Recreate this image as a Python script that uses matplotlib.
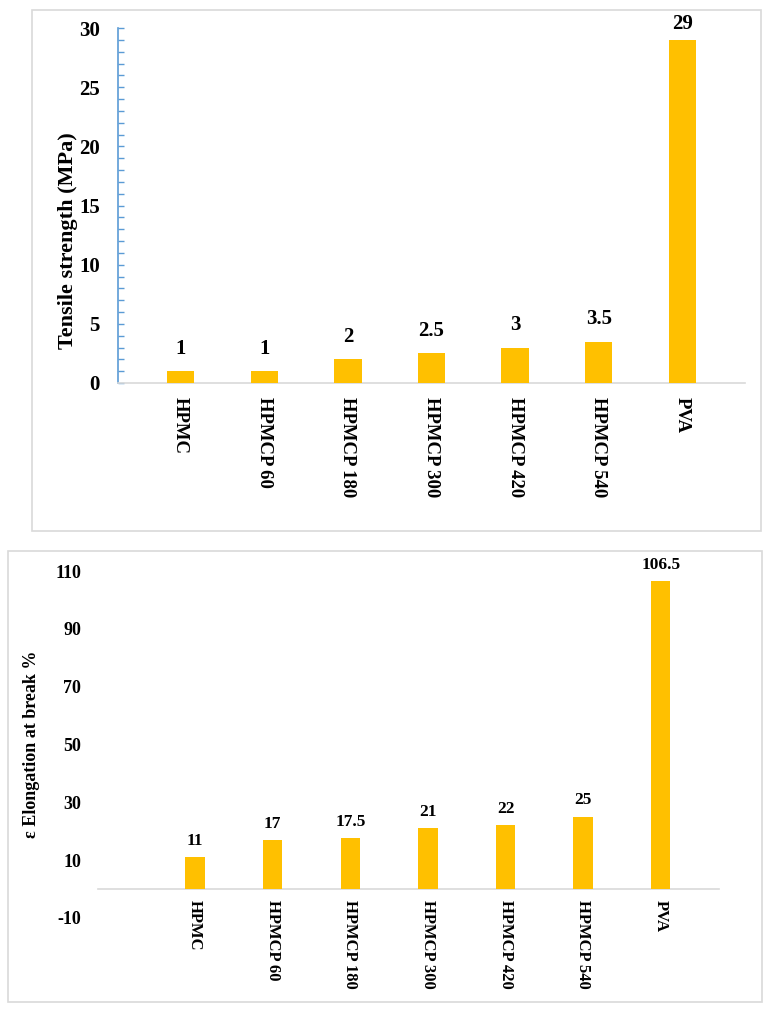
import matplotlib
matplotlib.use("Agg")
import matplotlib.pyplot as plt
from matplotlib.patches import Rectangle
from matplotlib.ticker import MultipleLocator

categories = ["HPMC", "HPMCP 60", "HPMCP 180", "HPMCP 300", "HPMCP 420", "HPMCP 540", "PVA"]
tensile = [1, 1, 2, 2.5, 3, 3.5, 29]
tensile_labels = ["1", "1", "2", "2.5", "3", "3.5", "29"]
elongation = [11, 17, 17.5, 21, 22, 25, 106.5]
elongation_labels = ["11", "17", "17.5", "21", "22", "25", "106.5"]
top_yticks = [0, 5, 10, 15, 20, 25, 30]
bottom_yticks = [-10, 10, 30, 50, 70, 90, 110]

BAR = "#FFC000"
GRID = "#D9D9D9"
BLUE = "#5B9BD5"

plt.rcParams['font.family'] = ['Liberation Serif', 'DejaVu Serif']
plt.rcParams['font.weight'] = 'bold'
plt.rcParams['axes.unicode_minus'] = False

W, H = 773, 1024
fig = plt.figure(figsize=(W / 100, H / 100), dpi=100)

def fx(px):
    return px / W

def fy(py):
    return 1 - py / H

# Outer boxes
fig.patches.append(Rectangle((fx(32), fy(531)), fx(761) - fx(32), fy(10) - fy(531),
                             transform=fig.transFigure, fill=False, edgecolor=GRID, lw=1.2))
fig.patches.append(Rectangle((fx(8), fy(1002)), fx(762) - fx(8), fy(551) - fy(1002),
                             transform=fig.transFigure, fill=False, edgecolor=GRID, lw=1.2))

x = list(range(len(categories)))

# ---------- Top chart ----------
ax1 = fig.add_axes([fx(118), fy(383), fx(745) - fx(118), fy(28) - fy(383)])
ax1.bar(x, tensile, width=0.33, color=BAR, zorder=3)
ax1.set_xlim(-0.75, 6.75)
ax1.set_ylim(0, 30)
ax1.set_yticks(top_yticks)
ax1.yaxis.set_minor_locator(MultipleLocator(1))
for s in ["top", "right"]:
    ax1.spines[s].set_visible(False)
ax1.spines["left"].set_color(BLUE)
ax1.spines["left"].set_linewidth(1.2)
ax1.spines["bottom"].set_color(GRID)
ax1.spines["bottom"].set_linewidth(1.2)
ax1.tick_params(axis="y", which="both", direction="in", colors=BLUE, length=4, width=1,
                labelcolor="black", labelsize=15, pad=13)
ax1.tick_params(axis="x", length=0, labelsize=13.5, pad=10)
ax1.set_xticks(x)
ax1.set_xticklabels(categories, rotation=-90, va="top", ha="center", fontweight="bold")
for lab in ax1.get_yticklabels():
    lab.set_fontweight("bold")
top_max = max(tensile)
for xi, v, t in zip(x, tensile, tensile_labels):
    off = 4 if v == top_max else 9
    ax1.annotate(t, (xi, v), xytext=(0, off), textcoords="offset points",
                 ha="center", va="bottom", fontsize=15, fontweight="bold")
ax1.set_ylabel("Tensile strength (MPa)", fontsize=16, fontweight="bold")
ax1.yaxis.set_label_coords(-0.064, 0.40)

# ---------- Bottom chart ----------
ax2 = fig.add_axes([fx(98), fy(918), fx(719) - fx(98), fy(571) - fy(918)])
ax2.bar(x, elongation, width=0.25, color=BAR, zorder=3)
ax2.set_xlim(-1.25, 6.75)
ax2.set_ylim(-10, 110)
ax2.set_yticks(bottom_yticks)
for s in ["top", "right", "left"]:
    ax2.spines[s].set_visible(False)
ax2.spines["bottom"].set_position(("data", 0))
ax2.spines["bottom"].set_color(GRID)
ax2.spines["bottom"].set_linewidth(1.2)
ax2.tick_params(axis="y", length=0, labelsize=13, pad=12)
ax2.tick_params(axis="x", length=0, labelsize=12, pad=8)
ax2.set_xticks(x)
ax2.set_xticklabels(categories, rotation=-90, va="top", ha="center", fontweight="bold")
for lab in ax2.get_yticklabels():
    lab.set_fontweight("bold")
for xi, v, t in zip(x, elongation, elongation_labels):
    ax2.annotate(t, (xi, v), xytext=(0, 6), textcoords="offset points",
                 ha="center", va="bottom", fontsize=12.5, fontweight="bold")
ax2.set_ylabel("ε Elongation at break %", fontsize=13, fontweight="bold")
ax2.yaxis.set_label_coords(-0.093, 0.5)

fig.savefig("out.png", dpi=100)
